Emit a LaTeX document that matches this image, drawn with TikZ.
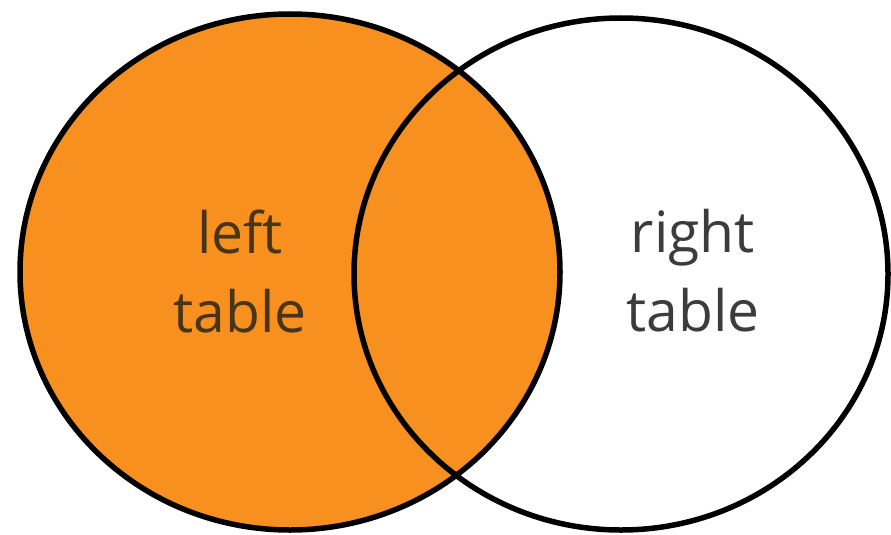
\documentclass[tikz,border=0pt]{standalone}
\usepackage{fontspec}
\setmainfont{Open Sans}
\definecolor{vennorange}{HTML}{F7901E}
\definecolor{lefttext}{HTML}{4A3418}
\definecolor{righttext}{HTML}{3C3C3C}
\begin{document}
\begin{tikzpicture}[x=1pt,y=-1pt,
  setline/.style={draw=black,line width=5.5pt},
  setlabel/.style={align=center,inner sep=0pt,font=\fontsize{57}{79}\selectfont}]
\useasboundingbox[fill=white] (0,0) rectangle (891,535);
\fill[vennorange] (290,272) ellipse [x radius=270,y radius=258];
\draw[setline] (290,272) ellipse [x radius=270,y radius=258];
\draw[setline] (621,274) ellipse [x radius=267,y radius=256];
\node[setlabel,text=lefttext] (lefttable) at (240,271) {left\\table};
\node[setlabel,text=righttext] (righttable) at (693,271) {right\\table};
\end{tikzpicture}
\end{document}
